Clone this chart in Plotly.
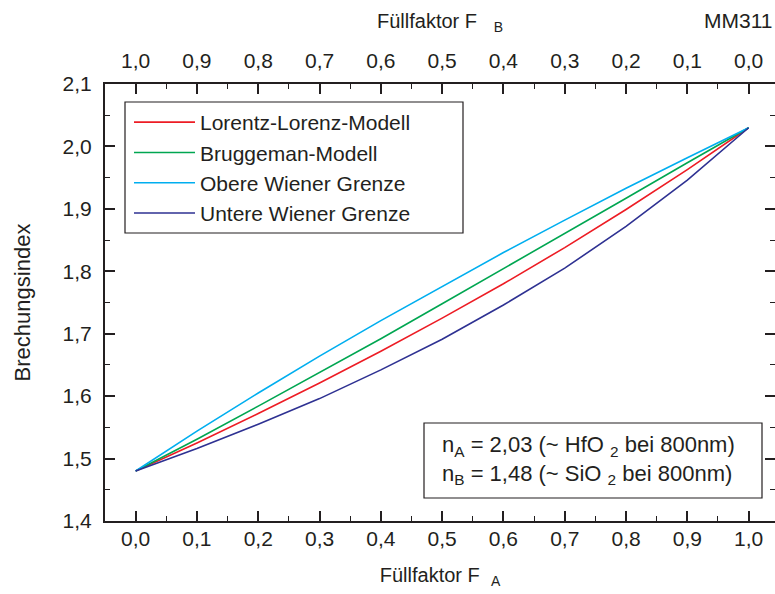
import plotly.graph_objects as go

# Füllfaktor F_A (bottom axis); top axis shows F_B = 1 - F_A
f_a = [0.0, 0.1, 0.2, 0.3, 0.4, 0.5, 0.6, 0.7, 0.8, 0.9, 1.0]

lorentz_lorenz = [1.480, 1.525, 1.572, 1.621, 1.672, 1.725, 1.780, 1.838, 1.899, 1.963, 2.030]
bruggeman      = [1.480, 1.531, 1.584, 1.638, 1.692, 1.748, 1.804, 1.860, 1.917, 1.974, 2.030]
obere_wiener   = [1.480, 1.544, 1.605, 1.664, 1.721, 1.776, 1.830, 1.882, 1.933, 1.982, 2.030]
untere_wiener  = [1.480, 1.516, 1.555, 1.596, 1.642, 1.691, 1.746, 1.805, 1.872, 1.946, 2.030]

series = [
    ("Lorentz-Lorenz-Modell", lorentz_lorenz, "#ED1C24"),
    ("Bruggeman-Modell", bruggeman, "#00A651"),
    ("Obere Wiener Grenze", obere_wiener, "#00AEEF"),
    ("Untere Wiener Grenze", untere_wiener, "#2E3192"),
]

SANS = "Liberation Sans, Arial, Helvetica, sans-serif"
INK = "#231F20"

# plot area in pixels (for placing boxes in paper coordinates)
L, R, T, B = 105, 775, 84, 521
W, H = R - L, B - T


def px(x):
    return (x - L) / W


def py(y):
    return (B - y) / H


fig = go.Figure()
for name, vals, col in series:
    fig.add_trace(go.Scatter(x=f_a, y=vals, mode="lines", name=name,
                             line=dict(color=col, width=1.6)))
# empty trace to activate the top (F_B) and right axes
fig.add_trace(go.Scatter(x=[], y=[], xaxis="x2", yaxis="y2", showlegend=False,
                         hoverinfo="skip"))

axis_common = dict(
    linecolor=INK, linewidth=2,
    ticks="inside", ticklen=10, tickwidth=1.6, tickcolor=INK,
    showgrid=False, zeroline=False,
    tickfont=dict(family=SANS, size=21, color=INK),
    minor=dict(ticks="inside", ticklen=5, tickwidth=1.3, tickcolor=INK),
)
title_font = dict(family=SANS, size=20, color=INK)

fig.update_layout(
    width=775, height=594,
    margin=dict(l=L, r=775 - R, t=T, b=594 - B),
    paper_bgcolor="white", plot_bgcolor="white",
    separators=",.",
    font=dict(family=SANS, color=INK),
    xaxis=dict(range=[-0.05, 1.043], tick0=0, dtick=0.1, tickformat=".1f",
               minor_dtick=0.05, showline=True, mirror=False, ticklabelstandoff=-2,
               title=dict(text="Füllfaktor F\u00a0\u00a0<sub>A</sub>", standoff=19,
                          font=title_font),
               **axis_common),
    xaxis2=dict(range=[1.05, -0.043], tick0=0, dtick=0.1, tickformat=".1f",
                minor_dtick=0.05, overlaying="x", side="top", anchor="y",
                showline=True, ticklabelstandoff=6,
                title=dict(text="Füllfaktor F\u00a0\u00a0\u00a0<sub>B</sub>", standoff=15,
                           font=title_font),
                **axis_common),
    yaxis=dict(range=[1.3999, 2.1001], tick0=1.4, dtick=0.1, tickformat=".1f",
               minor_dtick=0.05, showline=True, mirror=False, ticklabelstandoff=7,
               title=dict(text="Brechungsindex", standoff=26,
                          font=dict(family=SANS, size=22, color=INK)),
               **axis_common),
    yaxis2=dict(range=[1.3999, 2.1001], tick0=1.4, dtick=0.1, overlaying="y",
                side="right", anchor="x", showticklabels=False, showline=False,
                minor_dtick=0.05, **axis_common),
    legend=dict(x=px(129), y=py(102), xanchor="left", yanchor="top",
                borderwidth=0, bgcolor="rgba(0,0,0,0)",
                font=dict(family=SANS, size=21, color=INK),
                tracegroupgap=0, itemwidth=61),
    showlegend=True,
    shapes=[
        # legend frame
        dict(type="rect", xref="paper", yref="paper",
             x0=px(125), x1=px(463), y0=py(233), y1=py(102),
             line=dict(color=INK, width=1.2), fillcolor="white", layer="below"),
        # info frame
        dict(type="rect", xref="paper", yref="paper",
             x0=px(424), x1=px(762), y0=py(498), y1=py(423),
             line=dict(color=INK, width=1.2), fillcolor="white", layer="below"),
    ],
    annotations=[
        dict(xref="paper", yref="paper", x=px(588), y=py(460),
             xanchor="center", yanchor="middle", showarrow=False,
             align="left",
             text="n<sub>A</sub> = 2,03 (~ HfO <sub>2</sub> bei 800nm)<br>"
                  "n<sub>B</sub> = 1,48 (~ SiO <sub>2</sub> bei 800nm)",
             font=dict(family=SANS, size=22, color=INK)),
        dict(xref="paper", yref="paper", x=px(774), y=py(20),
             xanchor="right", yanchor="middle", showarrow=False,
             text="MM311", font=dict(family=SANS, size=21, color=INK)),
    ],
)

fig.write_html("out.html")
